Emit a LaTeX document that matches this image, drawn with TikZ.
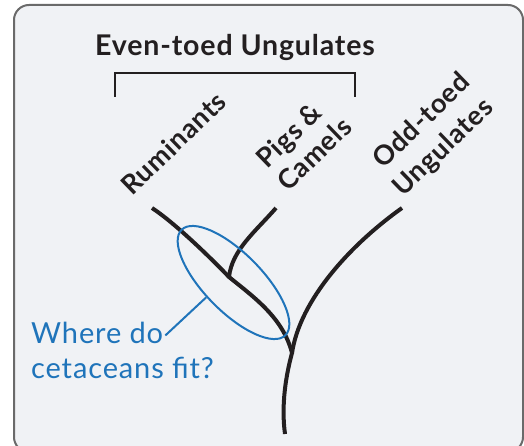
\documentclass[tikz,border=0pt]{standalone}
\usepackage{fontspec}
\setmainfont{Lato}
\usetikzlibrary{shapes.geometric}
\definecolor{bgfill}{HTML}{F0F2F5}
\definecolor{frame}{HTML}{6A6A6A}
\definecolor{ink}{HTML}{231F20}
\definecolor{cblue}{HTML}{1F74BA}
\newfontfamily\labelfont[LetterSpace=3]{Lato}
\newfontfamily\qfont[LetterSpace=3]{Lato}
\tikzset{
  branch/.style={draw=ink, line width=4pt},
  lbl/.style={font=\labelfont\fontsize{27}{27}\selectfont\bfseries, text=ink, inner sep=0pt, anchor=base west, rotate=44},
  qtext/.style={font=\qfont\fontsize{29}{29}\selectfont, text=cblue, inner sep=0pt, anchor=base west},
}
\begin{document}
\begin{tikzpicture}[x=1pt,y=-1pt]
\useasboundingbox (0,0) rectangle (524,446);
\draw[rounded corners=15pt, fill=bgfill, draw=frame, line width=2pt] (14,5) rectangle (523,452);
% title and bracket
\node[font=\labelfont\fontsize{28.5}{28.5}\selectfont\bfseries, text=ink, inner sep=0pt, anchor=base] (title) at (235,56) {Even-toed Ungulates};
\coordinate (bl) at (115,97); \coordinate (br) at (355,97);
\draw[draw=ink, line width=2pt] (bl) -- (115,73) -- (355,73) -- (br);
% labels
\node[lbl] (rum) at (132,197) {Ruminants};
\node[lbl] (pigs) at (267,170) {Pigs \&};
\node[lbl] (cam) at (288,193) {Camels};
\node[lbl] (odd) at (383,170) {Odd-toed};
\node[lbl] (ung) at (403,198) {Ungulates};
% tree
\coordinate (rtop) at (152,208);
\coordinate (ptop) at (276,208);
\coordinate (otop) at (402,208);
\coordinate (pj) at (229,277);
\coordinate (root) at (292,353);
\coordinate (bot) at (285,434);
\draw[branch] (rtop) .. controls (172,221) and (205,252) .. (pj)
  .. controls (255,298) and (283,318) .. (root)
  .. controls (286,375) and (281,405) .. (bot);
\draw[branch] (ptop) .. controls (255,232) and (232,250) .. (pj);
\draw[branch] (otop) .. controls (350,245) and (300,300) .. (root);
% ellipse
\node[ellipse, draw=cblue, line width=2pt, minimum width=148pt, minimum height=58pt, inner sep=0pt, rotate=-45.5] (ell) at (233.5,282.5) {};
% question
\node[qtext] (q1) at (31,343) {Where do};
\node[qtext] (q2) at (31,378) {cetaceans fit?};
\draw[draw=cblue, line width=2pt] ([xshift=2pt,yshift=-3pt]q1.east) -- (ell.254);
\end{tikzpicture}
\end{document}
